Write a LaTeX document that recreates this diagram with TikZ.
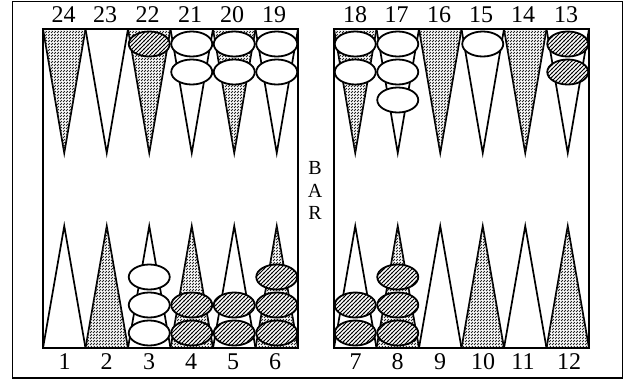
\documentclass[tikz,border=0pt]{standalone}
\usepackage{fontspec}
\setmainfont{Liberation Serif}
\usetikzlibrary{patterns}
\pgfdeclarepatternformonly{ptdots}{\pgfqpoint{-1pt}{-1pt}}{\pgfqpoint{4pt}{4pt}}{\pgfqpoint{3pt}{3pt}}{%
  \pgfsetlinewidth{0.9pt}%
  \pgfpathmoveto{\pgfqpoint{0pt}{0pt}}%
  \pgfpathlineto{\pgfqpoint{1.9pt}{1.9pt}}%
  \pgfusepath{stroke}}
\pgfdeclarepatternformonly{chkhatch}{\pgfqpoint{-1pt}{-1pt}}{\pgfqpoint{5pt}{5pt}}{\pgfqpoint{4pt}{4pt}}{%
  \pgfsetlinewidth{0.85pt}%
  \pgfpathmoveto{\pgfqpoint{-0.5pt}{-0.5pt}}%
  \pgfpathlineto{\pgfqpoint{4.5pt}{4.5pt}}%
  \pgfusepath{stroke}}
\begin{document}
\begin{tikzpicture}[x=1pt,y=-1pt,
  tri/.style={draw=black, line width=1.7pt, line join=miter, fill=white},
  shd/.style={tri, postaction={pattern=ptdots, pattern color=black!85}},
  chk/.style={draw=black, line width=1.8pt, fill=white},
  dchk/.style={chk, postaction={pattern=chkhatch}},
  board/.style={draw=black, line width=2.2pt},
  frame/.style={draw=black, line width=1.5pt},
  num/.style={font=\fontsize{24}{24}\selectfont, inner sep=0pt},
  bar/.style={font=\fontsize{20}{20}\selectfont, inner sep=0pt}]
\useasboundingbox (0,0) rectangle (627,381);
\fill[white] (0,0) rectangle (627,381);
\def\hw{21.25}
% top triangles
\foreach \cx/\s in {64.25/shd,106.75/tri,149.25/shd,191.75/tri,234.25/shd,276.75/tri,
                     355.25/shd,397.75/tri,440.25/shd,482.75/tri,525.25/shd,567.75/tri}
  \draw[\s] (\cx-\hw,29) -- (\cx,153) -- (\cx+\hw,29) -- cycle;
% bottom triangles
\foreach \cx/\s in {64.25/tri,106.75/shd,149.25/tri,191.75/shd,234.25/tri,276.75/shd,
                     355.25/tri,397.75/shd,440.25/tri,482.75/shd,525.25/tri,567.75/shd}
  \draw[\s] (\cx-\hw,348) -- (\cx,226) -- (\cx+\hw,348) -- cycle;
% top checkers
\foreach \cx/\n/\s in {149.25/1/dchk,191.75/2/chk,234.25/2/chk,276.75/2/chk,
                        355.25/2/chk,397.75/3/chk,482.75/1/chk,567.75/2/dchk}
  \foreach \j in {1,...,\n}
    \draw[\s] (\cx,{44+28*(\j-1)}) ellipse [x radius=20.5pt, y radius=12.5pt];
% bottom checkers
\foreach \cx/\n/\s in {149.25/3/chk,191.75/2/dchk,234.25/2/dchk,276.75/3/dchk,
                        355.25/2/dchk,397.75/3/dchk}
  \foreach \j in {1,...,\n}
    \draw[\s] (\cx,{333-28*(\j-1)}) ellipse [x radius=20.5pt, y radius=12.5pt];
% boards and frame
\draw[board] (43,29) rectangle (298,348);
\draw[board] (334,29) rectangle (589,348);
\draw[frame] (12.5,1.5) rectangle (622.5,378);
% point numbers
\foreach \cx/\t in {63.5/24,105/23,147.5/22,190/21,232/20,274/19,
                     355/18,396.5/17,439/16,481/15,523/14,566/13}
  \node[num] (n\t) at (\cx,15) {\t};
\foreach \cx/\t in {64.5/1,106.5/2,149/3,191/4,233/5,275/6,
                     355.5/7,397.5/8,440/9,483/10,523/11,569/12}
  \node[num] (n\t) at (\cx,362) {\t};
% BAR
\node[bar] (bB) at (315,168) {B};
\node[bar] (bA) at (315,190.5) {A};
\node[bar] (bR) at (315,213) {R};
\end{tikzpicture}
\end{document}
